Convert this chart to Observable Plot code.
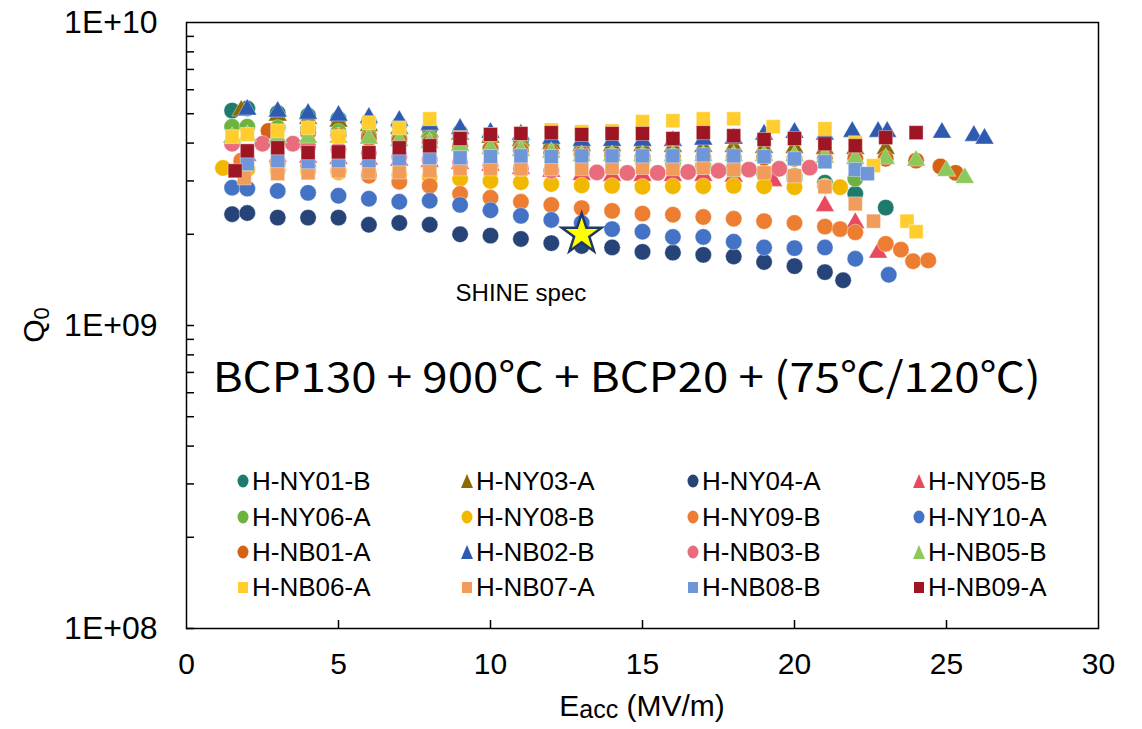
<!DOCTYPE html>
<html><head><meta charset="utf-8">
<script src="https://cdn.jsdelivr.net/npm/d3@7"></script>
<script src="https://cdn.jsdelivr.net/npm/@observablehq/plot@0.6"></script>
<style>
body{margin:0;background:#fff;}
#wrap{position:relative;width:1142px;height:729px;font-family:"Liberation Sans",Arial,sans-serif;}
.leg{position:absolute;display:flex;align-items:center;height:30px;font-size:26px;color:#000;white-space:nowrap;}
.leg svg{margin-right:3px;}
</style></head><body><div id="wrap"></div>
<script>
// ---- series metadata (legend order = drawing order) ----
const seriesNames = ["H-NY01-B","H-NY03-A","H-NY04-A","H-NY05-B","H-NY06-A","H-NY08-B","H-NY09-B","H-NY10-A",
                     "H-NB01-A","H-NB02-B","H-NB03-B","H-NB05-B","H-NB06-A","H-NB07-A","H-NB08-B","H-NB09-A"];
const seriesColors = ["#1E7A6D","#8C6A00","#264478","#E8495E","#6CB33F","#F2B800","#ED7D31","#4472C4",
                      "#D46212","#2E5BB0","#E96C7C","#8CC85C","#FFCE2E","#F19C5A","#6F96D8","#9E1624"];
const seriesSymbols = ["circle","triangle","circle","triangle","circle","circle","circle","circle",
                       "circle","triangle","circle","triangle","square","square","square","square"];

// ---- data: Eacc (MV/m) and Q0 (x1e9) ----
const ny01_E = [1.5,2,3,4,5,6,7,8,9,10,11,12,13,14,15,16,17,18,19,20,21,22,23];
const ny01_Q = [5.12,5.20,5.03,4.93,4.81,4.71,4.60,4.46,4.33,4.20,4.07,3.92,3.83,3.72,3.61,3.50,3.40,3.29,3.19,3.05,2.96,2.72,2.45];
const ny03_E = [1.8,3,4,5,6,7,8,9,10,11,12,13,14,15,16,17,18,19,20,21,22,23];
const ny03_Q = [5.12,4.93,4.81,4.71,4.56,4.46,4.36,4.27,4.17,4.07,3.98,3.92,3.92,3.92,3.89,3.89,3.89,3.86,3.86,3.83,3.83,3.83];
const ny04_E = [1.5,2,3,4,5,6,7,8,9,10,11,12,13,14,15,16,17,18,19,20,21,21.6];
const ny04_Q = [2.33,2.35,2.27,2.27,2.27,2.15,2.18,2.15,2.00,1.98,1.93,1.87,1.83,1.81,1.75,1.74,1.71,1.69,1.62,1.57,1.50,1.41];
const ny05_E = [2,3,4,5,6,7,8,9,10,11,12,13,14,15,16,17,18,19.3,21,22,22.75];
const ny05_Q = [3.63,3.61,3.58,3.55,3.53,3.50,3.47,3.42,3.37,3.29,3.22,3.14,3.12,3.12,3.12,3.12,3.10,3.00,2.48,2.18,1.74];
const ny06_E = [1.5,2,3,4,5,6,7,8,9,10,11,12,13,14,15,16,17,18,19,20,22];
const ny06_Q = [4.53,4.53,4.49,4.46,4.36,4.23,4.17,4.14,3.92,3.83,3.83,3.69,3.63,3.58,3.50,3.42,3.35,3.24,3.19,3.12,3.05];
const ny08_E = [1.2,2,3,4,5,6,7,8,9,10,11,12,13,14,15,16,17,18,19,20,21,21.5];
const ny08_Q = [3.31,3.28,3.25,3.22,3.20,3.18,3.14,3.10,3.05,3.00,2.97,2.93,2.90,2.89,2.87,2.88,2.88,2.89,2.88,2.86,2.88,2.86];
const ny09_E = [1.8,3,4,5,6,7,8,9,10,11,12,13,14,15,16,17,18,19,20,21,21.5,22,23,23.5,23.9,24.4];
const ny09_Q = [3.50,3.42,3.35,3.24,3.12,2.98,2.89,2.72,2.64,2.56,2.50,2.44,2.39,2.34,2.32,2.28,2.25,2.21,2.18,2.12,2.08,2.03,1.86,1.78,1.63,1.64];
const ny10_E = [1.5,2,3,4,5,6,7,8,9,10,11,12,13,14,15,16,17,18,19,20,21,22,23.1];
const ny10_Q = [2.85,2.83,2.78,2.74,2.68,2.62,2.56,2.58,2.50,2.40,2.30,2.23,2.18,2.08,2.04,1.96,1.96,1.89,1.81,1.80,1.81,1.66,1.47];
const nb01_E = [2.7,4,5,6,7,8,9,10,11,12,13,14,15,16,17,18,19,20,21,22,23,24,24.8,25.3];
const nb01_Q = [4.39,4.33,4.23,4.14,4.07,4.01,3.89,3.83,3.77,3.72,3.69,3.63,3.61,3.61,3.58,3.58,3.58,3.55,3.55,3.55,3.55,3.50,3.35,3.19];
const nb02_E = [2,3,4,5,6,7,8,9,10,11,12,13,14,15,16,17,18,19,20,21,21.9,22.75,23.05,24.85,25.9,26.25];
const nb02_Q = [5.16,5.08,5.00,4.93,4.85,4.74,4.60,4.46,4.33,4.27,4.14,4.07,4.07,4.07,4.07,4.11,4.14,4.27,4.33,4.27,4.36,4.36,4.36,4.33,4.23,4.14];
const nb03_E = [1.5,2.5,3.5,4,5,6,7,8,9,10,11,12,13.5,14.5,15.5,16.5,17.5,18.5,19.5,20.5];
const nb03_Q = [3.98,3.98,3.98,3.89,3.80,3.70,3.60,3.52,3.45,3.38,3.30,3.24,3.20,3.19,3.19,3.21,3.24,3.27,3.29,3.32];
const nb05_E = [1.5,2,3,4,5,6,7,8,9,10,11,12,13,14,15,16,17,18,19,20,21,22,23,24,25,25.6];
const nb05_Q = [4.17,4.23,4.17,4.17,4.17,4.14,4.07,4.01,3.92,3.83,3.77,3.72,3.63,3.63,3.63,3.63,3.63,3.63,3.63,3.63,3.58,3.55,3.55,3.50,3.24,3.07];
const nb06_E = [1.5,2,3,4,5,6,7,8,9,10,11,12,13,14,15,16,17,18,19.3,21,22,22.6,23.7,24];
const nb06_Q = [4.20,4.27,4.39,4.49,4.20,4.67,4.49,4.81,4.17,4.27,4.30,4.42,4.36,4.39,4.71,4.74,4.81,4.81,4.53,4.46,4.01,3.37,2.21,2.04];
const nb07_E = [1.9,3,4,5,6,7,8,9,10,11,12,13,14,15,16,17,18,19,20,21,22,22.6];
const nb07_Q = [3.07,3.17,3.19,3.24,3.21,3.21,3.24,3.29,3.29,3.29,3.29,3.29,3.32,3.32,3.29,3.32,3.27,3.19,3.12,2.87,2.52,2.21];
const nb08_E = [2,3,4,5,6,7,8,9,10,11,12,13,14,15,16,17,18,19,20,21,22,22.4];
const nb08_Q = [3.42,3.50,3.47,3.50,3.50,3.55,3.58,3.58,3.61,3.63,3.61,3.63,3.63,3.63,3.63,3.66,3.63,3.61,3.55,3.47,3.27,3.17];
const nb09_E = [1.6,2,3,4,5,6,7,8,9,10,11,12,13,14,15,16,17,18,19,20,21,22,23,24];
const nb09_Q = [3.24,3.77,3.86,3.72,3.74,3.72,3.86,3.92,4.14,4.27,4.30,4.33,4.27,4.30,4.30,4.14,4.33,4.23,4.11,4.14,3.98,3.92,4.17,4.33];

// SHINE specification point
const specE = [13];
const specQ = [2.0];

// axis ticks
const xTicks = [0,5,10,15,20,25,30];
const yTicks = [1e8,1e9,1e10];
const yTickLabels = ["1E+08","1E+09","1E+10"];
const annotationText = "BCP130 + 900℃ + BCP20 + (75℃/120℃)";
const specLabel = "SHINE spec";

// ---- build table ----
const allE = [ny01_E,ny03_E,ny04_E,ny05_E,ny06_E,ny08_E,ny09_E,ny10_E,nb01_E,nb02_E,nb03_E,nb05_E,nb06_E,nb07_E,nb08_E,nb09_E];
const allQ = [ny01_Q,ny03_Q,ny04_Q,ny05_Q,ny06_Q,ny08_Q,ny09_Q,ny10_Q,nb01_Q,nb02_Q,nb03_Q,nb05_Q,nb06_Q,nb07_Q,nb08_Q,nb09_Q];
const seriesData = allE.map((es, i) => es.map((e, j) => ({series: seriesNames[i], E: e, Q: allQ[i][j] * 1e9})));

const W = 1142, H = 729;
const mL = 186, mR = 44, mT = 22, mB = 101;
const frameW = W - mL - mR, frameH = H - mT - mB;
const symR = {circle: 8.2, square: 7.9, triangle: 7.0};

const yMinor = [];
for (const base of [1e8, 1e9]) for (let k = 1; k <= 9; k++) yMinor.push(base * k);

const marks = [
  Plot.tickX(xTicks.slice(1, -1), {x: d => d, stroke: "#000", strokeWidth: 1.5, insetTop: frameH - 8}),
  Plot.tickY(yMinor, {y: d => d, stroke: "#000", strokeWidth: 1.5, insetRight: frameW - 8}),
];
seriesData.forEach((rows, i) => {
  const s = seriesSymbols[i];
  marks.push(Plot.dot(rows, {x: "E", y: "Q", symbol: s, r: symR[s], fill: seriesColors[i],
    stroke: "#fff", strokeWidth: 0.7, strokeOpacity: 0.55}));
});
marks.push(
  Plot.dot(specE.map((e, i) => ({E: e, Q: specQ[i] * 1e9})), {x: "E", y: "Q", symbol: "star", r: 12.5,
    fill: "#FFFF00", stroke: "#1F3864", strokeWidth: 2.5}),
  Plot.text([specLabel], {x: 11.0, y: 1.275e9, text: d => d, fontSize: 24, fill: "#000",
    fontFamily: "Liberation Sans, Arial, sans-serif"}),
  Plot.text([annotationText], {x: 0.86, y: 6.65e8, text: d => d, textAnchor: "start", fontSize: 41, fill: "#000",
    fontFamily: "Noto Sans CJK JP, Noto Sans, sans-serif"}),
  Plot.frame({stroke: "#000", strokeWidth: 1.5}),
  Plot.axisX({ticks: xTicks, tickSize: 0, tickPadding: 24, fontSize: 30, label: null}),
  Plot.axisY({ticks: yTicks, tickSize: 0, tickPadding: 29, fontSize: 32, label: null,
    tickFormat: d => yTickLabels[yTicks.findIndex(t => Math.abs(t - d) / t < 1e-6)]})
);

const plot = Plot.plot({
  width: W, height: H,
  marginLeft: mL, marginRight: mR, marginTop: mT, marginBottom: mB,
  style: {fontFamily: "Liberation Sans, Arial, sans-serif", color: "#000", background: "#fff"},
  x: {domain: [0, 30]},
  y: {type: "log", domain: [1e8, 1e10]},
  marks
});
const wrap = document.getElementById("wrap");
wrap.appendChild(plot);

// annotation width & axis labels with subscripts
const svg = d3.select(plot);
svg.selectAll("text").filter(function () { return this.textContent === annotationText; })
  .attr("textLength", 828).attr("lengthAdjust", "spacingAndGlyphs");

const xl = svg.append("text").attr("x", mL + frameW / 2).attr("y", 716).attr("text-anchor", "middle")
  .attr("font-size", 30).attr("fill", "#000");
xl.append("tspan").text("E");
xl.append("tspan").attr("font-size", 25).attr("dy", 2).text("acc");
xl.append("tspan").attr("dy", -2).text(" (MV/m)");

const yl = svg.append("text").attr("transform", `translate(44,${mT + frameH / 2}) rotate(-90)`)
  .attr("text-anchor", "middle").attr("font-size", 30).attr("fill", "#000");
yl.append("tspan").text("Q");
yl.append("tspan").attr("font-size", 22).attr("dy", 5).text("0");

// legend (inside plot area)
const legCols = [237, 461, 687, 913];
const legRows = [481, 517, 552, 587];
seriesNames.forEach((name, i) => {
  const c = i % 4, r = Math.floor(i / 4);
  const div = document.createElement("div");
  div.className = "leg";
  div.style.left = legCols[c] + "px";
  div.style.top = (legRows[r] - 15) + "px";
  const sym = seriesSymbols[i];
  let shape;
  if (sym === "circle") shape = `<ellipse cx="6" cy="7" rx="5.5" ry="6.5" fill="${seriesColors[i]}"/>`;
  else if (sym === "triangle") shape = `<polygon points="6,0 12,14 0,14" fill="${seriesColors[i]}"/>`;
  else shape = `<rect x="1" y="2" width="10" height="11" fill="${seriesColors[i]}"/>`;
  div.innerHTML = `<svg width="12" height="14">${shape}</svg><span>${name}</span>`;
  wrap.appendChild(div);
});
</script></body></html>
